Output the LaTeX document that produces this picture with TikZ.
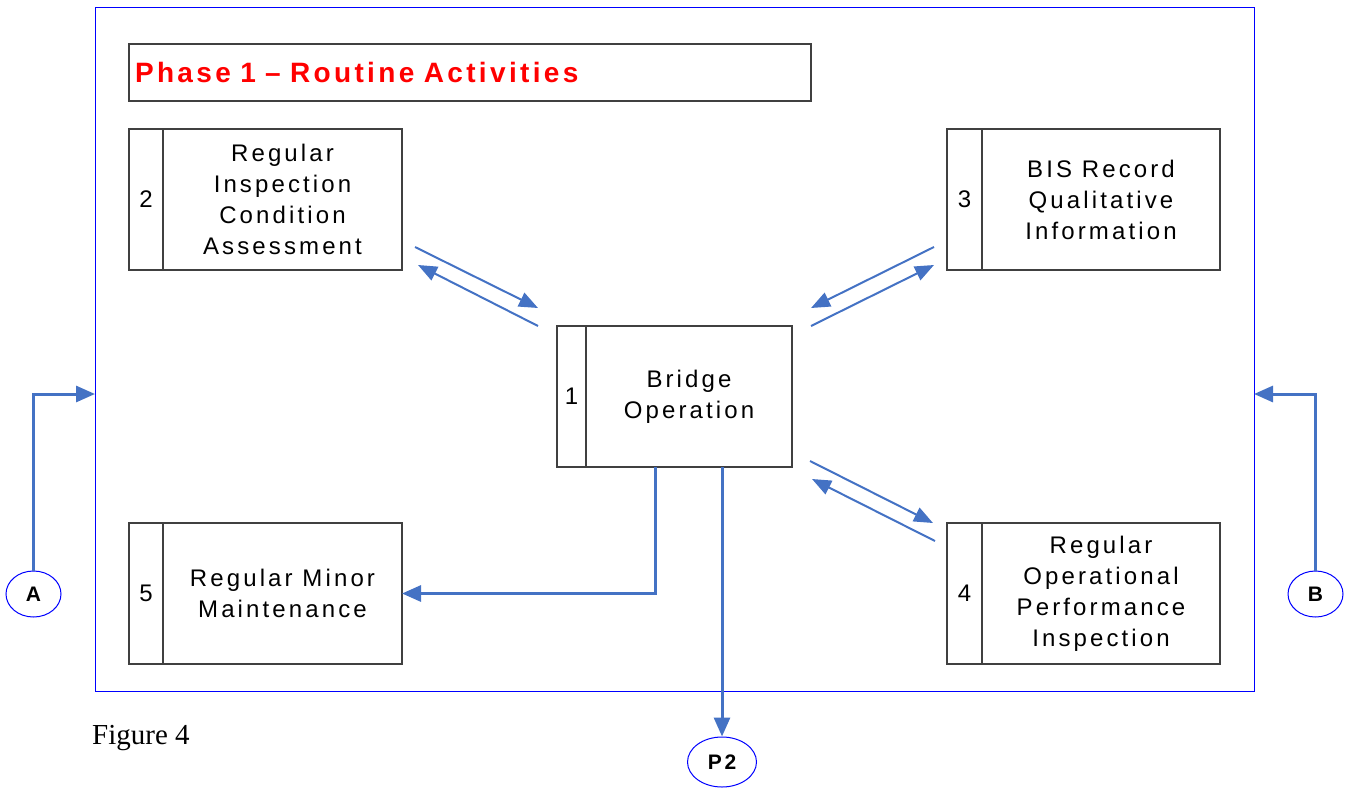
\documentclass[tikz,border=0pt]{standalone}
\usepackage{fontspec}
\setmainfont{Liberation Sans}
\newfontfamily\boxfont{Liberation Sans}[LetterSpace=13]
\newfontfamily\titlefont{Liberation Sans}[LetterSpace=12]
\newfontfamily\capfont{Liberation Serif}
\usepackage{xcolor}
\usepackage{tikz}
\usetikzlibrary{arrows.meta,shapes.geometric,positioning}
\definecolor{flowblue}{RGB}{68,114,196}
\definecolor{edgegray}{RGB}{64,64,64}

\begin{document}
\begin{tikzpicture}[x=1pt,y=-1pt,
		numcell/.style={draw=edgegray,line width=1.2pt,minimum height=141pt,inner sep=0pt,outer sep=0pt,font=\fontsize{24}{31}\selectfont},
		textcell/.style={draw=edgegray,line width=1.2pt,minimum height=141pt,inner sep=0pt,outer sep=0pt,align=center,font=\boxfont\fontsize{24}{31}\selectfont},
		connector/.style={draw=blue,line width=1pt,ellipse,minimum width=55pt,minimum height=46pt,inner sep=0pt,font=\boxfont\bfseries\fontsize{21}{21}\selectfont},
		elbow/.style={flowblue,line width=3pt,-{Triangle[length=19pt,width=16pt]}},
		slant/.style={flowblue,line width=2pt,-{Triangle[length=19pt,width=15pt]}}]
		\useasboundingbox (0,0) rectangle (1348,789);
		
		%phase boundary
		\node[draw=blue,line width=1pt,minimum width=1159pt,minimum height=683pt,outer sep=0pt] (frame) at (674.5,349.5) {};
		%title
		\node[draw=edgegray,line width=1.2pt,text width=670pt,inner xsep=6pt,minimum height=57pt,outer sep=0pt,
			font=\titlefont\bfseries\fontsize{28}{28}\selectfont,text=red] (title) at (470,72.5) {Phase 1 – Routine Activities};
		
		%activities
		\node[numcell,minimum width=29pt] (n1) at (571.5,396.5) {1};
		\node[textcell,minimum width=206pt,right=0pt of n1] (t1) {Bridge\\Operation};
		\node[numcell,minimum width=34pt] (n2) at (146,199.5) {2};
		\node[textcell,minimum width=239pt,right=0pt of n2] (t2) {Regular\\Inspection\\Condition\\Assessment};
		\node[numcell,minimum width=35pt] (n3) at (964.5,199.5) {3};
		\node[textcell,minimum width=238pt,right=0pt of n3] (t3) {BIS Record\\Qualitative\\Information};
		\node[numcell,minimum width=35pt] (n4) at (964.5,593.5) {4};
		\node[textcell,minimum width=238pt,right=0pt of n4] (t4) {Regular\\Operational\\Performance\\Inspection};
		\node[numcell,minimum width=34pt] (n5) at (146,593.5) {5};
		\node[textcell,minimum width=239pt,right=0pt of n5] (t5) {Regular Minor\\Maintenance};
		
		%off-page connectors
		\node[connector] (a) at (33.5,594) {A};
		\node[connector] (b) at (1315.5,594) {B};
		\node[connector,minimum width=69pt,minimum height=50pt] (p2) at (722,762) {P2};
		
		%caption
		\node[anchor=base west,inner sep=0pt,font=\capfont\fontsize{29}{29}\selectfont] (fig) at (92,744) {Figure 4};
		
		%flows 2 <-> 1
		\coordinate (u1) at (415,247);
		\coordinate (u2) at (538,308);
		\coordinate (u3) at (538,326);
		\coordinate (u4) at (418,265);
		\draw[slant] (u1) -- (u2);
		\draw[slant] (u3) -- (u4);
		%flows 3 <-> 1
		\coordinate (v1) at (934,247);
		\coordinate (v2) at (811,308);
		\coordinate (v3) at (811,326);
		\coordinate (v4) at (934,265);
		\draw[slant] (v1) -- (v2);
		\draw[slant] (v3) -- (v4);
		%flows 1 <-> 4
		\coordinate (w1) at (810,461);
		\coordinate (w2) at (933,523);
		\coordinate (w3) at (935,541);
		\coordinate (w4) at (812,479);
		\draw[slant] (w1) -- (w2);
		\draw[slant] (w3) -- (w4);
		
		%flow 1 -> 5 and 1 -> P2
		\draw[elbow] ([xshift=69pt]t1.south west) |- (t5.east);
		\draw[elbow] ([xshift=136pt]t1.south west) -- (p2.north);
		%inputs A and B
		\draw[elbow] (a.north) |- ([yshift=-44.5pt]frame.west);
		\draw[elbow] (b.north) |- ([yshift=-44.5pt]frame.east);
	\end{tikzpicture}
\end{document}
